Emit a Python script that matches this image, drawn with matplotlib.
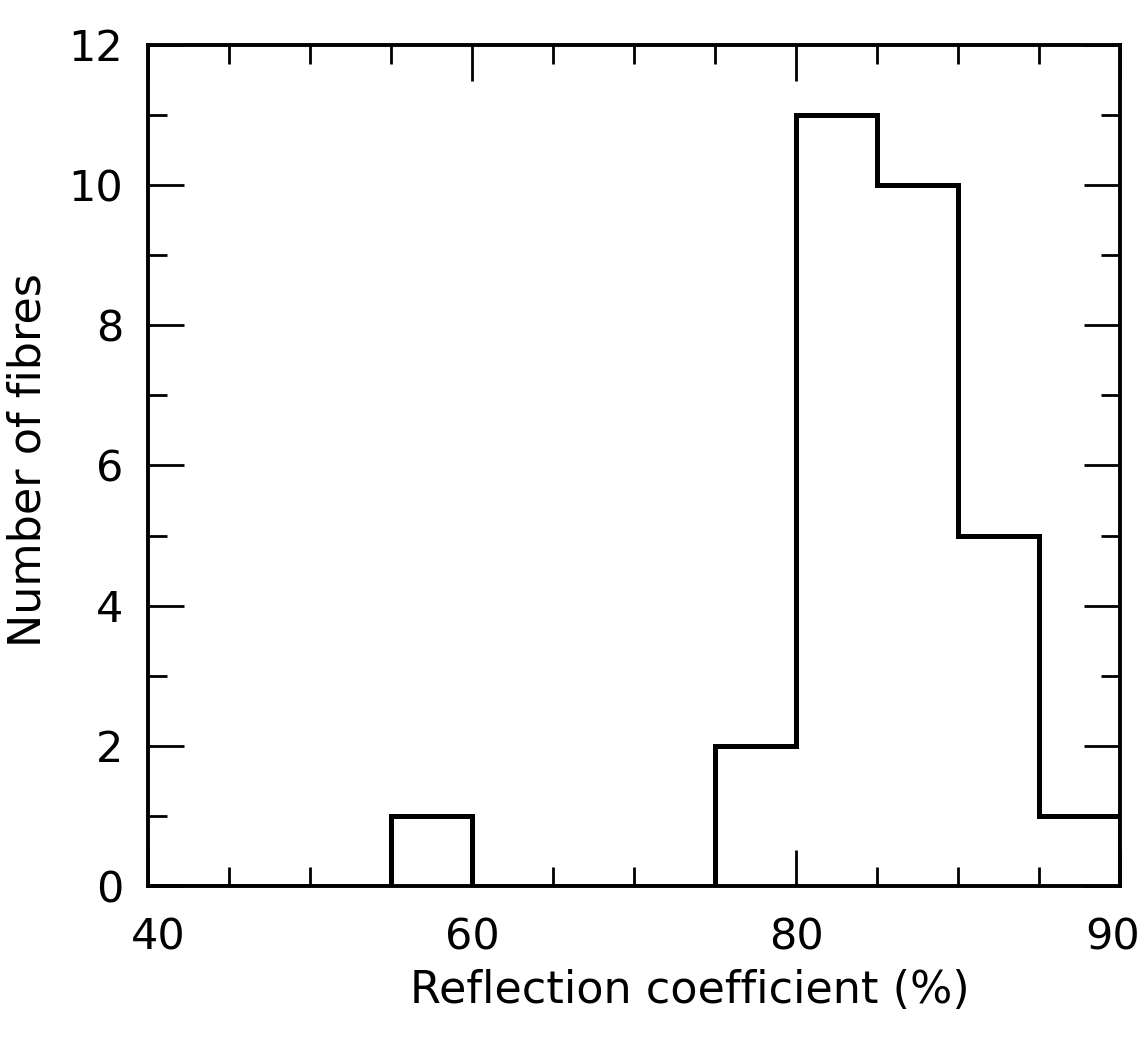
import numpy as np
import matplotlib
matplotlib.use("Agg")
import matplotlib.pyplot as plt
import matplotlib.transforms as mtransforms
from matplotlib.ticker import FixedLocator

# histogram of fibre reflection coefficients
bin_edges = [40, 45, 50, 55, 60, 65, 70, 75, 80, 82.5, 85, 87.5, 90]
counts = [0, 0, 0, 1, 0, 0, 0, 2, 11, 10, 5, 1]

x_major = [40, 60, 80, 90]
x_minor = [45, 50, 55, 65, 70, 75, 82.5, 85, 87.5]
y_major = [0, 2, 4, 6, 8, 10, 12]
y_minor = [1, 3, 5, 7, 9, 11]

# the axis is stretched above 80 %: 40-80 at 5 % per division, 80-90 at 2.5 %
knots_val = [0, 40, 60, 80, 90, 100]
knots_pos = [-8, 0, 4, 8, 12, 16]


def fwd(x):
    return np.interp(x, knots_val, knots_pos)


def inv(p):
    return np.interp(p, knots_pos, knots_val)


plt.rcParams['font.family'] = ['DejaVu Sans']

fig = plt.figure(figsize=(11.44, 10.46), dpi=100)
ax = fig.add_axes([0.1294, 0.153, 0.850, 0.804])

ax.set_xscale('function', functions=(fwd, inv))
ax.stairs(counts, bin_edges, color='black', linewidth=3.6, baseline=0)

ax.set_xlim(40, 90)
ax.set_ylim(0, 12)

ax.xaxis.set_major_locator(FixedLocator(x_major))
ax.xaxis.set_minor_locator(FixedLocator(x_minor))
ax.yaxis.set_major_locator(FixedLocator(y_major))
ax.yaxis.set_minor_locator(FixedLocator(y_minor))
ax.set_xticklabels([str(v) for v in x_major])
ax.set_yticklabels([str(v) for v in y_major])

ax.tick_params(which='both', direction='in', top=True, right=True, width=2, color='black')
ax.tick_params(which='major', length=26)
ax.tick_params(which='minor', length=14)
ax.tick_params(axis='x', which='major', pad=22, labelsize=31)
ax.tick_params(axis='y', which='major', pad=18, labelsize=31)

# nudge the end labels inwards so they sit inside the figure
xlabels = ax.get_xticklabels()
xlabels[0].set_transform(xlabels[0].get_transform() +
                         mtransforms.ScaledTranslation(10 / 100, 0, fig.dpi_scale_trans))
xlabels[-1].set_transform(xlabels[-1].get_transform() +
                          mtransforms.ScaledTranslation(-8 / 100, 0, fig.dpi_scale_trans))

for s in ax.spines.values():
    s.set_linewidth(2.8)

ax.set_xlabel('Reflection coefficient (%)', fontsize=32)
ax.xaxis.label.set_va('center')
ax.xaxis.set_label_coords(0.557, -0.124)
ax.set_ylabel('Number of fibres', fontsize=32)
ax.yaxis.label.set_va('center')
ax.yaxis.set_label_coords(-0.123, 0.507)

fig.savefig('out.png', dpi=100, facecolor='white')
